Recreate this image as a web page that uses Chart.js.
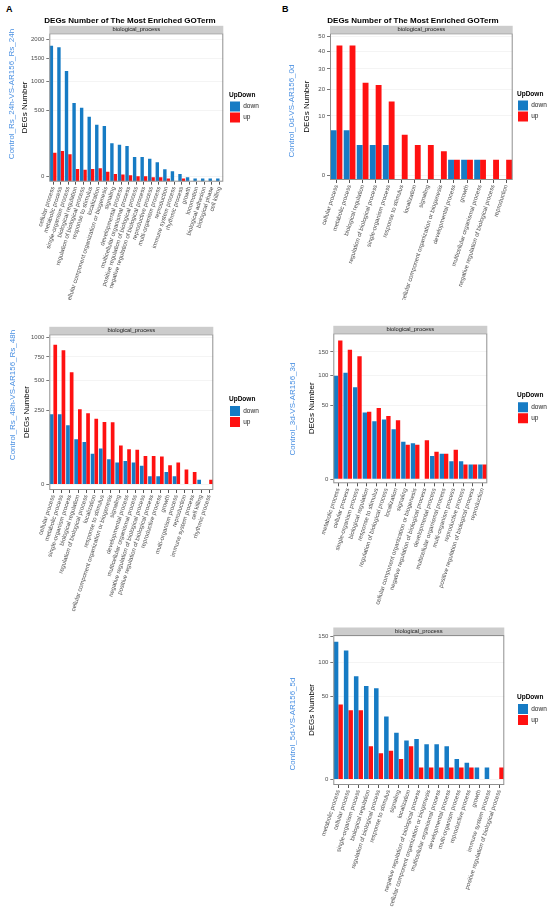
<!DOCTYPE html>
<html>
<head>
<meta charset="utf-8">
<script src="https://cdn.jsdelivr.net/npm/chart.js@4.4.1/dist/chart.umd.min.js"></script>
<style>
    html, body { margin: 0; padding: 0; background: #fff; }
    body { width: 550px; height: 919px; position: relative; overflow: hidden; font-family: 'Liberation Sans', Arial, sans-serif; }
    .panel { position: absolute; width: 300px; }
    .tag { position: absolute; font-weight: bold; font-size: 9px; line-height: 9px; }
</style>
</head>
<body>
<div class="tag" style="left:6px;top:5px">A</div>
<div class="tag" style="left:282px;top:5px">B</div>
<div class="panel" style="left:0;top:0;height:300px"><canvas id="a1"></canvas></div>
<div class="panel" style="left:0;top:300px;height:320px"><canvas id="a2"></canvas></div>
<div class="panel" style="left:275px;top:0;height:300px"><canvas id="b1"></canvas></div>
<div class="panel" style="left:275px;top:300px;height:320px"><canvas id="b2"></canvas></div>
<div class="panel" style="left:275px;top:600px;height:319px"><canvas id="b3"></canvas></div>
<script>
// ---- data ----
const a1Terms = ['cellular process', 'metabolic process', 'single-organism process', 'biological regulation',
    'regulation of biological process', 'response to stimulus', 'localization',
    'cellular component organization or biogenesis', 'signaling', 'developmental process',
    'multicellular organismal process', 'positive regulation of biological process',
    'negative regulation of biological process', 'reproductive process', 'multi-organism process',
    'reproduction', 'immune system process', 'rhythmic process', 'growth', 'locomotion',
    'biological adhesion', 'biological phase', 'cell killing'];
const a1Down = [1824, 1781, 1209, 611, 540, 417, 320, 306, 145, 135, 126, 60, 60, 52, 37, 15, 11, 6, 2, 1, 1, 1, 1];
const a1Up = [83, 93, 74, 16, 14, 16, 18, 10, 6, 5, 4, 3, 3, 2, 2, 1, null, 1, null, null, null, null, null];
const a1Ticks = [0, 500, 1000, 1500, 2000];

const a2Terms = ['cellular process', 'metabolic process', 'single-organism process', 'biological regulation',
    'regulation of biological process', 'localization', 'response to stimulus',
    'cellular component organization or biogenesis', 'signaling', 'developmental process',
    'multicellular organismal process', 'negative regulation of biological process',
    'positive regulation of biological process', 'reproductive process', 'growth',
    'multi-organism process', 'reproduction', 'immune system process', 'cell killing', 'rhythmic process'];
const a2Down = [227, 227, 161, 94, 83, 43, 59, 29, 22, 25, 22, 16, 3, 3, 7, 3, null, null, 1, null];
const a2Up = [902, 830, 580, 260, 233, 199, 180, 178, 70, 57, 55, 37, 37, 36, 17, 22, 10, 7, null, 1];
const a2Ticks = [0, 250, 500, 750, 1000];

const b1Terms = ['cellular process', 'metabolic process', 'biological regulation', 'regulation of biological process',
    'single-organism process', 'response to stimulus', 'localization', 'signaling',
    'cellular component organization or biogenesis', 'developmental process', 'growth',
    'multicellular organismal process', 'negative regulation of biological process', 'reproduction'];
const b1Down = [6, 6, 3, 3, 3, null, null, null, null, 1, 1, 1, null, null];
const b1Up = [44, 44, 23, 22, 15, 5, 3, 3, 2, 1, 1, 1, 1, 1];
const b1Ticks = [0, 10, 20, 30, 40, 50];

const b2Terms = ['metabolic process', 'cellular process', 'single-organism process', 'biological regulation',
    'response to stimulus', 'regulation of biological process', 'localization', 'signaling',
    'cellular component organization or biogenesis', 'negative regulation of biological process',
    'developmental process', 'multicellular organismal process', 'multi-organism process',
    'reproductive process', 'positive regulation of biological process', 'reproduction'];
const b2Down = [99, 105, 78, 41, 31, 33, 23, 13, 12, null, 5, 6, 3, 3, 2, 2];
const b2Up = [178, 155, 140, 42, 47, 37, 32, 11, 11, 14, 7, 6, 8, 2, 2, 2];
const b2Ticks = [0, 50, 100, 150];

const b3Terms = ['metabolic process', 'cellular process', 'single-organism process', 'biological regulation',
    'regulation of biological process', 'response to stimulus', 'signaling', 'localization',
    'negative regulation of biological process', 'cellular component organization or biogenesis',
    'multicellular organismal process', 'developmental process', 'multi-organism process',
    'reproductive process', 'growth', 'immune system process', 'positive regulation of biological process'];
const b3Down = [139, 122, 78, 64, 61, 29, 16, 11, 12, 9, 9, 8, 3, 2, 1, 1, null];
const b3Up = [41, 35, 35, 8, 5, 6, 3, 8, 1, 1, 1, 1, 1, 1, null, null, 1];
const b3Ticks = [0, 50, 100, 150];

const MAIN_TITLE = 'DEGs Number of The Most Enriched GOTerm';
const FONT = "'Liberation Sans', Arial, sans-serif";
const BLUE = '#167bc4';
const RED = '#ff1111';

// layout per panel (canvas coords)
const PANELS = {
    a1: { terms: a1Terms, down: a1Down, up: a1Up, ticks: a1Ticks, yMax: 2172, sMin: 0, zeroShift: 5,
        area: { l: 49.3, r: 223.3, t: 33.3, b: 181.7 }, h: 300, axisLeft: 20, legendX: 229,
        label: 'Control_Rs_24h-VS-AR156_Rs_24h', labelX: 12, labelY: 94, title: { x: 130, y: 21 } },
    a2: { terms: a2Terms, down: a2Down, up: a2Up, ticks: a2Ticks, yMax: 1041, sMin: -1.22, zeroShift: 0,
        area: { l: 49.3, r: 213.3, t: 34.3, b: 190 }, h: 320, axisLeft: 22, legendX: 229,
        label: 'Control_Rs_48h-VS-AR156_Rs_48h', labelX: 13, labelY: 95 },
    b1: { terms: b1Terms, down: b1Down, up: b1Up, ticks: b1Ticks, yMax: 52.4, sMin: 0, zeroShift: 5,
        area: { l: 55, r: 237.7, t: 33.3, b: 180 }, h: 300, axisLeft: 27, legendX: 242,
        label: 'Control_0d-VS-AR156_0d', labelX: 17, labelY: 111, title: { x: 138, y: 21 } },
    b2: { terms: b2Terms, down: b2Down, up: b2Up, ticks: b2Ticks, yMax: 197, sMin: -0.4, zeroShift: 0,
        area: { l: 58.3, r: 212.3, t: 33.3, b: 183.3 }, h: 320, axisLeft: 32, legendX: 242,
        label: 'Control_3d-VS-AR156_3d', labelX: 18, labelY: 109 },
    b3: { terms: b3Terms, down: b3Down, up: b3Up, ticks: b3Ticks, yMax: 153, sMin: -0.49, zeroShift: 0,
        area: { l: 58.3, r: 229.3, t: 35, b: 185 }, h: 319, axisLeft: 32, legendX: 242,
        label: 'Control_5d-VS-AR156_5d', labelX: 18, labelY: 124 }
};
const CANVAS_W = 300;
const LEGEND_FONT = 6.5;
const LEGEND_BOX = 10;

// width Chart.js gives a vertical legend: padding + box + font/2 + text + 10
function legendWidth() {
    const ctx = document.createElement('canvas').getContext('2d');
    ctx.font = `${LEGEND_FONT}px ${FONT}`;
    const w = Math.max(ctx.measureText('down').width, ctx.measureText('up').width);
    return 1 + LEGEND_BOX + LEGEND_FONT / 2 + w + 10;
}
const LEGEND_W = legendWidth();

// square-root value axis, like ggplot's scale_y_sqrt
class SqrtScale extends Chart.Scale {
    determineDataLimits() {
        this.min = 0;
        this.max = PANELS[this.chart.canvas.id].yMax;
    }
    buildTicks() {
        return PANELS[this.chart.canvas.id].ticks.map(v => ({ value: v }));
    }
    getLabelForValue(value) {
        return String(value);
    }
    configure() {
        super.configure();
        this._s0 = PANELS[this.chart.canvas.id].sMin;
        this._s1 = Math.sqrt(this.max);
    }
    getPixelForValue(value) {
        const s = value < 0 ? -Math.sqrt(-value) : Math.sqrt(value);
        return this.getPixelForDecimal((s - this._s0) / (this._s1 - this._s0));
    }
    getValueForPixel(pixel) {
        const s = this._s0 + this.getDecimalForPixel(pixel) * (this._s1 - this._s0);
        return s < 0 ? -s * s : s * s;
    }
    getPixelForTick(index) {
        const tick = this.ticks[index];
        const px = this.getPixelForValue(tick.value);
        return tick.value === 0 ? px - PANELS[this.chart.canvas.id].zeroShift : px;
    }
}
SqrtScale.id = 'sqrt';
SqrtScale.defaults = {};
Chart.register(SqrtScale);

// strip, panel border, main title and the comparison label
const ggPanel = {
    id: 'ggPanel',
    afterDatasetsDraw(chart) {
        const a = chart.chartArea;
        const ctx = chart.ctx;
        ctx.save();
        ctx.strokeStyle = '#8f8f8f';
        ctx.lineWidth = 1;
        ctx.strokeRect(a.left + 0.5, a.top + 0.5, a.right - a.left - 1, a.bottom - a.top - 1);
        ctx.restore();
    },
    afterDraw(chart) {
        const p = PANELS[chart.canvas.id];
        const a = chart.chartArea;
        const ctx = chart.ctx;
        ctx.save();
        ctx.fillStyle = '#cccccc';
        ctx.fillRect(a.left, a.top - 7.5, a.right - a.left, 7.5);
        ctx.fillStyle = '#1a1a1a';
        ctx.font = `5.8px ${FONT}`;
        ctx.textAlign = 'center';
        ctx.textBaseline = 'middle';
        ctx.fillText('biological_process', (a.left + a.right) / 2, a.top - 3.6);
        if (p.title) {
            ctx.fillStyle = '#000';
            ctx.font = `bold 8px ${FONT}`;
            ctx.fillText(MAIN_TITLE, p.title.x, p.title.y);
        }
        ctx.translate(p.labelX, p.labelY);
        ctx.rotate(-Math.PI / 2);
        ctx.fillStyle = '#4a90e2';
        ctx.font = `8px ${FONT}`;
        ctx.fillText(p.label, 0, 0);
        ctx.restore();
    }
};

function makeChart(id) {
    const p = PANELS[id];
    const a = p.area;
    return new Chart(document.getElementById(id), {
        type: 'bar',
        data: {
            labels: p.terms,
            datasets: [
                { label: 'down', data: p.down, backgroundColor: BLUE, borderWidth: 0, categoryPercentage: 0.9, barPercentage: 1 },
                { label: 'up', data: p.up, backgroundColor: RED, borderWidth: 0, categoryPercentage: 0.9, barPercentage: 1 }
            ]
        },
        options: {
            responsive: true,
            maintainAspectRatio: false,
            animation: false,
            layout: { padding: { left: p.axisLeft, right: CANVAS_W - p.legendX - LEGEND_W, top: a.t, bottom: 0 } },
            scales: {
                x: {
                    grid: { display: true, drawOnChartArea: false, drawTicks: true, tickLength: 3, tickColor: '#555', offset: false },
                    border: { display: false },
                    ticks: { autoSkip: false, minRotation: 72, maxRotation: 72, padding: 1, color: '#4d4d4d', font: { family: FONT, size: 6 } },
                    afterFit: s => { s.height = p.h - a.b; }
                },
                y: {
                    type: 'sqrt',
                    position: 'left',
                    grid: { color: '#f1f1f1', lineWidth: 0.8, drawTicks: true, tickLength: 3, tickColor: '#555' },
                    border: { display: false },
                    ticks: { autoSkip: false, padding: 2, color: '#4d4d4d', font: { family: FONT, size: 6 } },
                    title: { display: true, text: 'DEGs Number', color: '#000', padding: 0, font: { family: FONT, size: 8 } },
                    afterFit: s => { s.width = a.l - p.axisLeft; }
                },
                gap: {
                    type: 'linear',
                    position: 'right',
                    grid: { display: false },
                    ticks: { display: false },
                    border: { display: false },
                    afterFit: s => { s.width = p.legendX - a.r; }
                }
            },
            plugins: {
                legend: {
                    position: 'right',
                    fullSize: false,
                    align: 'center',
                    title: { display: true, text: 'UpDown', position: 'start', color: '#000', padding: { top: 0, bottom: 1 }, font: { family: FONT, size: LEGEND_FONT, weight: 'bold' } },
                    labels: { boxWidth: LEGEND_BOX, boxHeight: LEGEND_BOX, padding: 1, color: '#222', font: { family: FONT, size: LEGEND_FONT } }
                },
                tooltip: { enabled: false }
            }
        },
        plugins: [ggPanel]
    });
}

const charts = Object.keys(PANELS).map(makeChart);
</script>
</body>
</html>
